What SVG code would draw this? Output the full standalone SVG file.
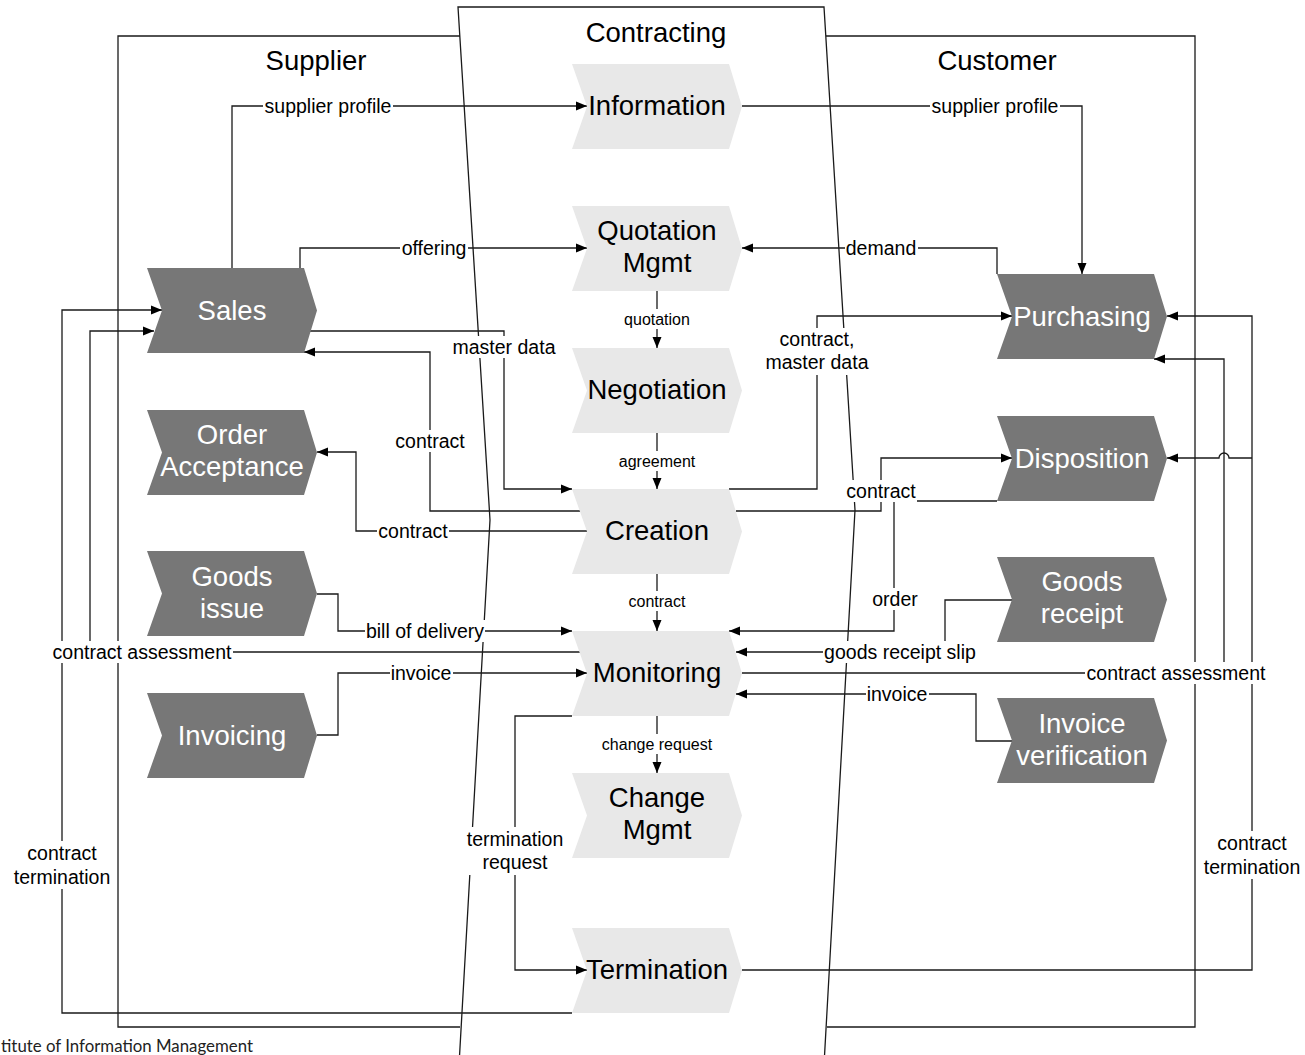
<svg xmlns="http://www.w3.org/2000/svg" width="1305" height="1055" viewBox="0 0 1305 1055">
<style>
text{font-family:"Liberation Sans",Arial,sans-serif;}
.title{font-size:27.5px;fill:#000;text-anchor:middle;}
.lt{fill:#e8e8e8;}
.dk{fill:#777777;}
.nt{font-size:27.5px;text-anchor:middle;fill:#000;}
.nd{font-size:27.5px;text-anchor:middle;fill:#fff;}
.frame{fill:none;stroke:#1a1a1a;stroke-width:1.3;}
.c{fill:none;stroke:#1a1a1a;stroke-width:1.3;marker-end:url(#arr);}
.lb{font-size:19.5px;text-anchor:middle;fill:#000;}
.ls{font-size:16px;text-anchor:middle;fill:#000;}
.bg{fill:#fff;}
</style>
<defs>
<marker id="arr" markerWidth="11" markerHeight="10" refX="11" refY="5" orient="auto" markerUnits="userSpaceOnUse"><path d="M0,0.5 L11,5 L0,9.5 z" fill="#000"/></marker>
</defs>
<rect width="1305" height="1055" fill="#fff"/>

<g id="lanes">
<path class="frame" d="M460,36 H118 V1027 H460"/>
<path class="frame" d="M826,36 H1195 V1027 H827"/>
<polygon class="frame" points="458,7 824,7 855,510 824,1065 459,1065 490,520"/>
<text class="title" x="316" y="70">Supplier</text>
<text class="title" x="656" y="42">Contracting</text>
<text class="title" x="997" y="70">Customer</text>
</g>

<g id="connectors">
<path class="c" d="M232,268 V106 H587"/>
<path class="c" d="M742,106 H1082 V274"/>
<path class="c" d="M300,268 V248 H587"/>
<path class="c" d="M997,274 V248 H742"/>
<path class="c" d="M657,291 V348"/>
<path class="c" d="M657,432 V489"/>
<path class="c" d="M310,331 H504 V489 H572"/>
<path class="c" d="M580,511 H430 V352 H304"/>
<path class="c" d="M587,531 H356 V452 H317"/>
<path class="c" d="M729,489 H817 V316 H1012"/>
<path class="c" d="M736,511 H881 V458 H1012"/>
<path class="c" d="M997,501 H894 V631 H729"/>
<path class="c" d="M657,574 V631"/>
<path class="c" d="M317,594 H338 V631 H572"/>
<path class="c" d="M580,652 H90 V331 H154"/>
<path class="c" d="M317,735 H338 V673 H587"/>
<path class="c" d="M1012,600 H945 V652 H736"/>
<path class="c" d="M742,673 H1224 V359 H1154"/>
<path class="c" d="M1012,741 H976 V694 H736"/>
<path class="c" d="M657,716 V773"/>
<path class="c" d="M572,716 H515 V970 H587"/>
<path class="c" d="M572,1013 H62 V310 H162"/>
<path class="c" d="M742,970 H1252 V316 H1167"/>
<path class="c" d="M1252,458 H1229 A5,5 0 0 0 1219,458 H1167"/>

<g id="labels">
<rect class="bg" x="263" y="95" width="130" height="22"/><text class="lb" x="328" y="113">supplier profile</text>
<rect class="bg" x="930" y="95" width="130" height="22"/><text class="lb" x="995" y="113">supplier profile</text>
<rect class="bg" x="400" y="237" width="68" height="22"/><text class="lb" x="434" y="255">offering</text>
<rect class="bg" x="845" y="237" width="73" height="22"/><text class="lb" x="881" y="255">demand</text>
<rect class="bg" x="451" y="336" width="106" height="22"/><text class="lb" x="504" y="354">master data</text>
<rect class="bg" x="394" y="430" width="72" height="22"/><text class="lb" x="430" y="448">contract</text>
<rect class="bg" x="377" y="520" width="72" height="22"/><text class="lb" x="413" y="538">contract</text>
<rect class="bg" x="764" y="328" width="106" height="47"/><text class="lb" x="817" y="346">contract,</text><text class="lb" x="817" y="369">master data</text>
<rect class="bg" x="845" y="480" width="72" height="22"/><text class="lb" x="881" y="498">contract</text>
<rect class="bg" x="871" y="588" width="48" height="22"/><text class="lb" x="895" y="606">order</text>
<rect class="bg" x="365" y="620" width="120" height="22"/><text class="lb" x="425" y="638">bill of delivery</text>
<rect class="bg" x="51" y="641" width="182" height="22"/><text class="lb" x="142" y="659">contract assessment</text>
<rect class="bg" x="390" y="662" width="63" height="22"/><text class="lb" x="421" y="680">invoice</text>
<rect class="bg" x="823" y="641" width="154" height="22"/><text class="lb" x="900" y="659">goods receipt slip</text>
<rect class="bg" x="1085" y="662" width="182" height="22"/><text class="lb" x="1176" y="680">contract assessment</text>
<rect class="bg" x="866" y="683" width="63" height="22"/><text class="lb" x="897" y="701">invoice</text>
<rect class="bg" x="466" y="827" width="99" height="48"/><text class="lb" x="515" y="846">termination</text><text class="lb" x="515" y="869">request</text>
<rect class="bg" x="13" y="841" width="99" height="48"/><text class="lb" x="62" y="860">contract</text><text class="lb" x="62" y="884">termination</text>
<rect class="bg" x="1203" y="831" width="99" height="48"/><text class="lb" x="1252" y="850">contract</text><text class="lb" x="1252" y="874">termination</text>
<rect class="bg" x="623" y="309" width="68" height="20"/><text class="ls" x="657" y="325">quotation</text>
<rect class="bg" x="618" y="451" width="79" height="20"/><text class="ls" x="657" y="467">agreement</text>
<rect class="bg" x="628" y="591" width="59" height="20"/><text class="ls" x="657" y="607">contract</text>
<rect class="bg" x="601" y="734" width="112" height="20"/><text class="ls" x="657" y="750">change request</text>
</g>
</g>

<g id="information"><polygon class="lt" points="572,64 729,64 742,106.5 729,149 572,149 587,106.5"/><text class="nt" x="657" y="115">Information</text></g>
<g id="quotation-mgmt"><polygon class="lt" points="572,206 729,206 742,248.5 729,291 572,291 587,248.5"/><text class="nt" x="657" y="240">Quotation</text><text class="nt" x="657" y="272">Mgmt</text></g>
<g id="negotiation"><polygon class="lt" points="572,348 729,348 742,390.5 729,433 572,433 587,390.5"/><text class="nt" x="657" y="399">Negotiation</text></g>
<g id="creation"><polygon class="lt" points="572,489 729,489 742,531.5 729,574 572,574 587,531.5"/><text class="nt" x="657" y="540">Creation</text></g>
<g id="monitoring"><polygon class="lt" points="572,631 729,631 742,673.5 729,716 572,716 587,673.5"/><text class="nt" x="657" y="682">Monitoring</text></g>
<g id="change-mgmt"><polygon class="lt" points="572,773 729,773 742,815.5 729,858 572,858 587,815.5"/><text class="nt" x="657" y="807">Change</text><text class="nt" x="657" y="839">Mgmt</text></g>
<g id="termination"><polygon class="lt" points="572,928 729,928 742,970.5 729,1013 572,1013 587,970.5"/><text class="nt" x="657" y="979">Termination</text></g>

<g id="sales"><polygon class="dk" points="147,268 304,268 317,310.5 304,353 147,353 162,310.5"/><text class="nd" x="232" y="320">Sales</text></g>
<g id="order-acceptance"><polygon class="dk" points="147,410 304,410 317,452.5 304,495 147,495 162,452.5"/><text class="nd" x="232" y="444">Order</text><text class="nd" x="232" y="476">Acceptance</text></g>
<g id="goods-issue"><polygon class="dk" points="147,551 304,551 317,593.5 304,636 147,636 162,593.5"/><text class="nd" x="232" y="586">Goods</text><text class="nd" x="232" y="618">issue</text></g>
<g id="invoicing"><polygon class="dk" points="147,693 304,693 317,735.5 304,778 147,778 162,735.5"/><text class="nd" x="232" y="745">Invoicing</text></g>

<g id="purchasing"><polygon class="dk" points="997,274 1154,274 1167,316.5 1154,359 997,359 1012,316.5"/><text class="nd" x="1082" y="326">Purchasing</text></g>
<g id="disposition"><polygon class="dk" points="997,416 1154,416 1167,458.5 1154,501 997,501 1012,458.5"/><text class="nd" x="1082" y="468">Disposition</text></g>
<g id="goods-receipt"><polygon class="dk" points="997,557 1154,557 1167,599.5 1154,642 997,642 1012,599.5"/><text class="nd" x="1082" y="591">Goods</text><text class="nd" x="1082" y="623">receipt</text></g>
<g id="invoice-verification"><polygon class="dk" points="997,698 1154,698 1167,740.5 1154,783 997,783 1012,740.5"/><text class="nd" x="1082" y="733">Invoice</text><text class="nd" x="1082" y="765">verification</text></g>

<text x="1" y="1052" font-size="17" textLength="252" lengthAdjust="spacingAndGlyphs" style="font-family:Lato,'Open Sans',sans-serif;fill:#222">titute of Information Management</text>
</svg>
